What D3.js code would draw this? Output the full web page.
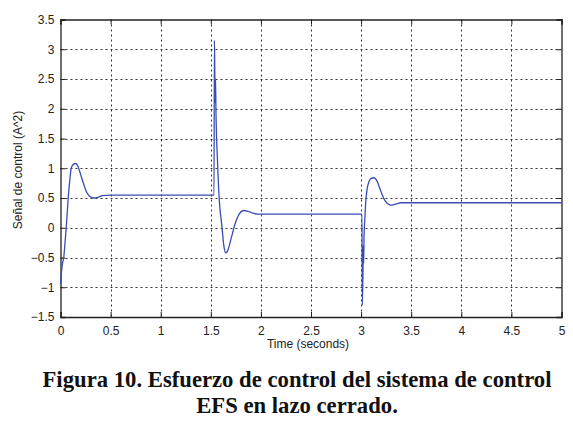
<!DOCTYPE html>
<html><head><meta charset="utf-8">
<script src="https://cdn.jsdelivr.net/npm/d3@7"></script>
<style>body{margin:0;background:#fff}svg{display:block}</style>
</head><body>
<svg id="c" width="573" height="426"></svg>
<script>
const timeValues = [0,0.005,0.01,0.02,0.033,0.045,0.057,0.067,0.077,0.09,0.107,0.125,0.15,0.175,0.2,0.23,0.26,0.29,0.33,0.37,0.42,0.5,
  1.0,1.532,1.536,1.539,1.543,1.547,1.552,1.558,1.565,1.572,1.58,1.59,1.61,1.63,1.65,1.67,1.7,1.74,1.78,1.83,1.88,1.93,1.97,2.5,
  3.009,3.012,3.018,3.022,3.026,3.03,3.036,3.045,3.06,3.08,3.1,3.13,3.16,3.2,3.24,3.28,3.31,3.35,3.4,4.0,5.0];
const controlValues = [-0.95,-0.85,-0.74,-0.6,-0.49,-0.25,0.0,0.25,0.5,0.75,1.0,1.06,1.08,1.03,0.9,0.74,0.6,0.53,0.5,0.51,0.54,0.55,
  0.55,0.55,3.15,2.8,2.1,2.5,1.9,1.5,1.2,0.9,0.6,0.35,0.04,-0.3,-0.42,-0.38,-0.2,0.05,0.22,0.29,0.27,0.24,0.23,0.23,
  0.23,-1.3,-0.85,-0.3,-0.6,-0.1,0.1,0.4,0.65,0.78,0.83,0.84,0.78,0.6,0.45,0.39,0.38,0.4,0.42,0.42,0.42];
const xTicks = [0,0.5,1,1.5,2,2.5,3,3.5,4,4.5,5];
const yTicks = [-1.5,-1,-0.5,0,0.5,1,1.5,2,2.5,3,3.5];
const xLabel = "Time (seconds)";
const yLabel = "Señal de control (A^2)";
const captionLines = ["Figura 10. Esfuerzo de control del sistema de control","EFS en lazo cerrado."];

const svg = d3.select("#c");
const L=60.5,R=561.5,T=19.5,B=317;
const x = d3.scaleLinear().domain([0,5]).range([L,R]);
const y = d3.scaleLinear().domain([-1.5,3.5]).range([B,T]);
const font = "'Liberation Sans', Arial, sans-serif";

// grid
const g = svg.append("g");
g.selectAll(".gx").data(xTicks.slice(1,-1)).join("line")
  .attr("x1",d=>Math.round(x(d))+0.5).attr("x2",d=>Math.round(x(d))+0.5).attr("y1",T).attr("y2",B)
  .attr("stroke","#333").attr("stroke-width",1).attr("stroke-dasharray","2,3");
g.selectAll(".gy").data(yTicks.slice(1,-1)).join("line")
  .attr("y1",d=>Math.round(y(d))+0.5).attr("y2",d=>Math.round(y(d))+0.5).attr("x1",L).attr("x2",R)
  .attr("stroke","#333").attr("stroke-width",1).attr("stroke-dasharray","2,3");

// axes
const xa = svg.append("g").attr("transform",`translate(0,${B})`)
  .call(d3.axisBottom(x).tickValues(xTicks).tickSize(-5).tickPadding(9).tickFormat(d3.format("")));
const xt = svg.append("g").attr("transform",`translate(0,${T})`)
  .call(d3.axisTop(x).tickValues(xTicks).tickSize(-5).tickFormat(""));
const ya = svg.append("g").attr("transform",`translate(${L},0)`)
  .call(d3.axisLeft(y).tickValues(yTicks).tickSize(-5).tickPadding(6).tickFormat(d3.format("")));
const yr = svg.append("g").attr("transform",`translate(${R},0)`)
  .call(d3.axisRight(y).tickValues(yTicks).tickSize(-5).tickFormat(""));
[xa,xt,ya,yr].forEach(a=>{
  a.selectAll("path").attr("stroke","#222").attr("stroke-width",1.3);
  a.selectAll("line").attr("stroke","#222");
  a.selectAll("text").attr("font-family",font).attr("font-size",12).attr("fill","#222");
});

// line
svg.append("path").datum(timeValues.map((t,i)=>[t,controlValues[i]]))
  .attr("fill","none").attr("stroke","#3a4db3").attr("stroke-width",1.3)
  .attr("d",d3.line().x(d=>x(d[0])).y(d=>y(d[1])).curve(d3.curveMonotoneX));

// labels
svg.append("text").attr("x",308).attr("y",348).attr("text-anchor","middle")
  .attr("font-family",font).attr("font-size",12).attr("fill","#222").text(xLabel);
svg.append("text").attr("transform","translate(22,170) rotate(-90)").attr("text-anchor","middle")
  .attr("font-family",font).attr("font-size",12).attr("fill","#222").text(yLabel);

// caption
svg.selectAll(".cap").data(captionLines).join("text")
  .attr("x",297).attr("y",(d,i)=>387+i*26).attr("text-anchor","middle")
  .attr("font-family","'Liberation Serif','Times New Roman',serif").attr("font-weight","bold")
  .attr("font-size",22.7).attr("fill","#111").text(d=>d);
</script>
</body></html>
